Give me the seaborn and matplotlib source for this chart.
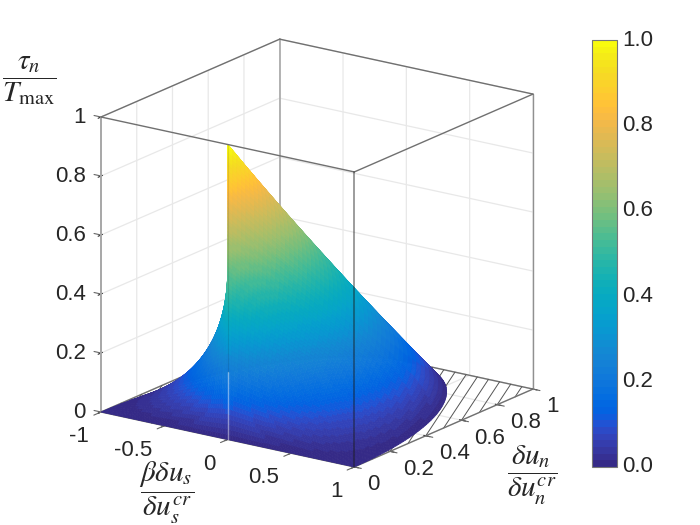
import numpy as np
import matplotlib
matplotlib.use("Agg")
import matplotlib.pyplot as plt
from matplotlib.colors import ListedColormap, Normalize
from matplotlib.cm import ScalarMappable
from mpl_toolkits.mplot3d import proj3d
import seaborn as sns

# ---- values ----
ray_angles_deg = list(range(0, 181))
seam_heights_right = [0, .017, .035, .052, .070, .087, .105, .122, .139, .156, .174, .191, .208, .225, .242,
    .259, .276, .292, .309, .326, .342, .358, .375, .391, .407, .423, .438, .454, .469, .485,
    .5, .515, .530, .545, .559, .574, .588, .602, .616, .629, .643, .656, .669, .682, .695,
    .707, .719, .731, .743, .755, .766, .777, .788, .799, .809, .819, .829, .839, .848, .857,
    .866, .875, .883, .891, .899, .906, .914, .921, .927, .934, .940, .946, .951, .956, .961,
    .966, .970, .974, .978, .982, .985, .988, .990, .993, .995, .996, .998, .999, .999, 1, 1]
ray_radii = [0, .02, .04, .06, .08, .1, .12, .14, .16, .18, .2, .22, .24, .26, .28, .3, .32, .34, .36, .38,
             .4, .42, .44, .46, .48, .5, .52, .54, .56, .58, .6, .62, .64, .66, .68, .7, .72, .74, .76, .78,
             .8, .82, .84, .86, .88, .9, .92, .94, .96, .98, 1]
ray_falloff = [1, .98, .96, .94, .92, .9, .88, .86, .84, .82, .8, .78, .76, .74, .72, .7, .68, .66, .64, .62,
               .6, .58, .56, .54, .52, .5, .48, .46, .44, .42, .4, .38, .36, .34, .32, .3, .28, .26, .24, .22,
               .2, .18, .16, .14, .12, .1, .08, .06, .04, .02, 0]
hatch_start_y = [0, .1, .2, .3, .4, .5, .6, .7, .8, .9]
hatch_end_x = [.12, .208, .296, .384, .472, .56, .648, .736, .824, .912]
left_hatch_start_x = [-.9, -.8, -.7, -.6, -.5]
left_hatch_end_y = [.114, .227, .341, .455, .568]
x_ticks = [-1, -.5, 0, .5, 1]
x_tick_labels = ["-1", "-0.5", "0", "0.5", "1"]
y_ticks = [0, .2, .4, .6, .8, 1]
y_tick_labels = ["0", "0.2", "0.4", "0.6", "0.8", "1"]
z_ticks = [0, .2, .4, .6, .8, 1]
z_tick_labels = ["0", "0.2", "0.4", "0.6", "0.8", "1"]
cbar_ticks = [0, .2, .4, .6, .8, 1]
cbar_tick_labels = ["0.0", "0.2", "0.4", "0.6", "0.8", "1.0"]

parula = [(.2081,.1663,.5292),(.2116,.1898,.5777),(.2123,.2138,.6270),(.2081,.2386,.6771),
(.1959,.2645,.7279),(.1707,.2919,.7792),(.1253,.3242,.8303),(.0591,.3598,.8683),
(.0117,.3875,.8820),(.0060,.4086,.8828),(.0165,.4266,.8786),(.0329,.4430,.8720),
(.0498,.4586,.8641),(.0629,.4737,.8554),(.0723,.4887,.8467),(.0779,.5040,.8384),
(.0793,.5200,.8312),(.0749,.5375,.8263),(.0641,.5570,.8240),(.0488,.5772,.8228),
(.0343,.5966,.8199),(.0265,.6137,.8135),(.0239,.6287,.8038),(.0231,.6418,.7913),
(.0228,.6535,.7768),(.0267,.6642,.7607),(.0384,.6743,.7436),(.0590,.6838,.7254),
(.0843,.6928,.7062),(.1133,.7015,.6859),(.1453,.7098,.6646),(.1801,.7177,.6424),
(.2178,.7250,.6193),(.2586,.7317,.5954),(.3022,.7376,.5712),(.3482,.7424,.5473),
(.3953,.7459,.5244),(.4420,.7481,.5033),(.4871,.7491,.4840),(.5300,.7491,.4661),
(.5709,.7485,.4494),(.6099,.7473,.4337),(.6473,.7456,.4188),(.6834,.7435,.4044),
(.7184,.7411,.3905),(.7525,.7384,.3768),(.7858,.7356,.3633),(.8185,.7327,.3498),
(.8507,.7299,.3360),(.8824,.7274,.3217),(.9139,.7258,.3063),(.9450,.7261,.2886),
(.9739,.7314,.2666),(.9938,.7455,.2403),(.9990,.7653,.2164),(.9955,.7861,.1967),
(.9880,.8066,.1794),(.9789,.8271,.1633),(.9697,.8481,.1475),(.9626,.8705,.1309),
(.9589,.8949,.1132),(.9598,.9218,.0948),(.9661,.9514,.0755),(.9763,.9831,.0538)]

sns.set_style("white", {"xtick.bottom": True, "ytick.left": True})
plt.rcParams["font.family"] = ["Liberation Sans", "DejaVu Sans"]
plt.rcParams["mathtext.fontset"] = "stix"
TICK_SIZE = 16
cmap = ListedColormap(sns.color_palette(parula, n_colors=64))
norm = Normalize(0, 1)

W, H = 700, 525
fig = plt.figure(figsize=(7, 5.25), dpi=100, facecolor="white")
ax = fig.add_axes([0.1, 0.1, 0.8, 0.8 * W / H], projection="3d", computed_zorder=False)
ax.set_proj_type("ortho")
ax.view_init(elev=17.9, azim=-54.8)
ax.set_box_aspect((1, 1, 1))
ax.set_xlim(-1, 1); ax.set_ylim(0, 1); ax.set_zlim(0, 1)
ax.autoscale(False)
ax.patch.set_alpha(0)

# surface
theta = np.radians(ray_angles_deg)
seam_heights = seam_heights_right + seam_heights_right[-2::-1]
R, T = np.meshgrid(ray_radii, theta)
X = R * np.cos(T)
Y = R * np.sin(T)
Z = np.outer(seam_heights, ray_falloff)
Zc = (Z[:-1, :-1] + Z[1:, :-1] + Z[:-1, 1:] + Z[1:, 1:]) / 4
faces = cmap(norm(Zc))
surf = ax.plot_surface(X, Y, Z, facecolors=faces, shade=False, rstride=1, cstride=1,
                       linewidth=0.5, antialiased=True, zorder=5)
surf.set_edgecolor(faces.reshape(-1, 4))

# axes furniture
for axis, ticks, labels in ((ax.xaxis, x_ticks, x_tick_labels),
                            (ax.yaxis, y_ticks, y_tick_labels),
                            (ax.zaxis, z_ticks, z_tick_labels)):
    axis.set_ticks(ticks)
    axis.set_ticklabels(labels)
    axis.pane.set_facecolor("white")
    axis.pane.set_edgecolor((1, 1, 1, 0))
    axis.line.set_color((0, 0, 0, 0))
    axis._axinfo["grid"].update(color="#e8e8e8", linewidth=0.9)
ax.grid(True)
ax.tick_params(axis="both", labelsize=TICK_SIZE, colors="#262626", pad=0)
ax.zaxis.set_ticks_position("lower")
ax.zaxis.set_label_position("lower")
ax.tick_params(axis="x", pad=5)
ax.tick_params(axis="y", pad=2)
ax.tick_params(axis="z", pad=-1)
for t in ax.get_xticklabels():
    t.set_ha("right"); t.set_va("center")
for t in ax.get_yticklabels():
    t.set_ha("left"); t.set_va("center")
for t in ax.get_zticklabels():
    t.set_ha("right"); t.set_va("center")

# tick marks, each parallel to a neighbouring box edge
tick_style = dict(color="#666666", lw=0.8, zorder=2)
for v in z_ticks:
    ax.plot([-1, -1.055], [0, 0], [v, v], **tick_style)
for v in x_ticks:
    ax.plot([v, v], [0, -.04], [0, 0], **tick_style)
for v in y_ticks:
    ax.plot([1, 1.055], [v, v], [0, 0], **tick_style)

# box edges
top = dict(color="#707070", lw=1.0, zorder=8)
ax.plot([-1, 1], [0, 0], [1, 1], **top)
ax.plot([1, 1], [0, 1], [1, 1], **top)
ax.plot([1, -1], [1, 1], [1, 1], **top)
ax.plot([-1, -1], [1, 0], [1, 1], **top)
ax.plot([-1, -1], [0, 0], [0, 1], color="#a8a8a8", lw=1.4, zorder=2)
ax.plot([-1, -1], [1, 1], [0, 1], color="#a8a8a8", lw=1.2, zorder=2)
ax.plot([1, 1], [1, 1], [0, 1], color="#909090", lw=1.0, zorder=2)
ax.plot([1, 1], [0, 0], [0, 1], color=(0.1, 0.1, 0.1, 0.55), lw=1.1, zorder=8)
floor = dict(color="#707070", lw=1.0)
ax.plot([1, 1], [0, 1], [0, 0], zorder=4, **floor)
ax.plot([1, -1], [1, 1], [0, 0], zorder=2, **floor)
ax.plot([-1, -1], [0, 1], [0, 0], zorder=2, **floor)
ax.plot([-1, 1], [0, 0], [0, 0], zorder=2, **floor)
for y0, xe in zip(hatch_start_y, hatch_end_x):
    ax.plot([1, xe], [y0, 1], [0, 0], color="#555555", lw=0.7, zorder=3)
for x0, ye in zip(left_hatch_start_x, left_hatch_end_y):
    ax.plot([x0, -1], [0, ye], [0, 0], color="#555555", lw=0.7, zorder=3)
ax.plot([0, 0], [0, 0], [0, .23], color=(1, 1, 1, 0.45), lw=1.0, zorder=7)
ax.plot([0, 0], [0, 0], [.23, 1], color=(0, 0, 0, 0.10), lw=0.8, zorder=7)

# place the projected cube on its pixel targets
def px(x, y, z):
    xs, ys, _ = proj3d.proj_transform(x, y, z, ax.get_proj())
    return ax.transData.transform((xs, ys))

for _ in range(3):
    fig.canvas.draw()
    a = px(-1, 0, 0)
    b = px(1, 1, 0)
    pos = ax.get_position(original=True)
    S = pos.width * W * 432.0 / (b[0] - a[0])
    ax.set_position([pos.x0, pos.y0, S / W, S / H])
    fig.canvas.draw()
    a = px(-1, 0, 0)
    pos = ax.get_position(original=True)
    ax.set_position([pos.x0 + (101 - a[0]) / W, pos.y0 + ((H - 412) - a[1]) / H, pos.width, pos.height])

# colour bar
cax = fig.add_axes([592 / W, 1 - 467 / H, 25 / W, 427 / H], zorder=20)
cb = fig.colorbar(ScalarMappable(norm=norm, cmap=cmap), cax=cax)
cb.set_ticks(cbar_ticks)
cb.set_ticklabels(cbar_tick_labels)
cb.ax.tick_params(labelsize=TICK_SIZE, length=3, direction="in", color="#555555",
                  labelcolor="#262626", pad=4, width=0.6)
for t in cb.ax.get_yticklabels():
    t.set_va("center")
cb.outline.set_edgecolor("#777777")
cb.outline.set_linewidth(0.8)

# axis titles
fig.text(29 / W, 1 - 81 / H, r"$\dfrac{\tau_n}{T_{\max}}$", fontsize=21, ha="center", va="center")
fig.text(167 / W, 1 - 493 / H, r"$\dfrac{\beta\delta u_s}{\delta u_s^{cr}}$", fontsize=21, ha="center", va="center")
fig.text(532 / W, 1 - 475 / H, r"$\dfrac{\delta u_n}{\delta u_n^{cr}}$", fontsize=21, ha="center", va="center")

fig.savefig("out.png", dpi=100)
